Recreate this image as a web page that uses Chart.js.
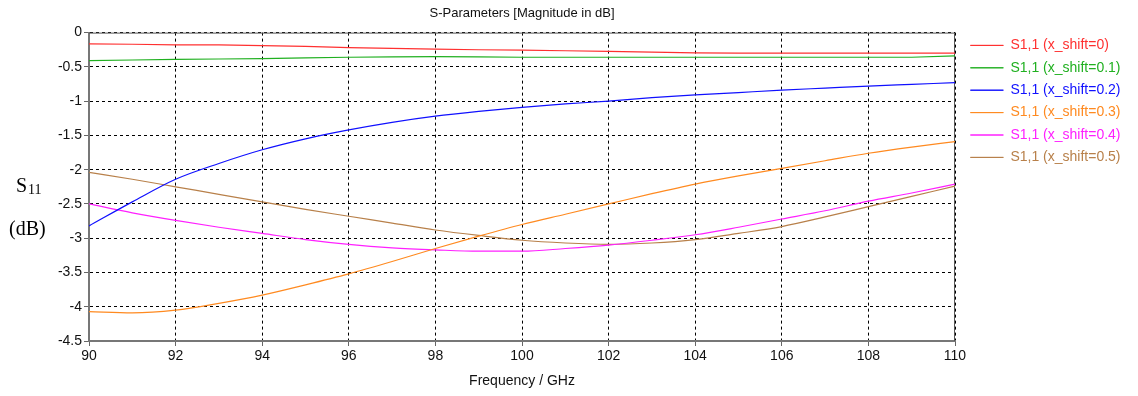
<!DOCTYPE html>
<html>
<head>
<meta charset="utf-8">
<script src="https://cdn.jsdelivr.net/npm/chart.js@4.4.1/dist/chart.umd.min.js"></script>
<style>
  html, body { margin: 0; padding: 0; background: #fff; }
  #wrap { width: 1138px; height: 396px; position: relative; }
</style>
</head>
<body>
<div id="wrap"><canvas id="chart"></canvas></div>
<script>
const freqGHz = [90, 91, 92, 93, 94, 95, 96, 97, 98, 99, 100, 101, 102, 103, 104, 105, 106, 107, 108, 109, 110];

const seriesNames = [
  'S1,1 (x_shift=0)', 'S1,1 (x_shift=0.1)', 'S1,1 (x_shift=0.2)',
  'S1,1 (x_shift=0.3)', 'S1,1 (x_shift=0.4)', 'S1,1 (x_shift=0.5)'
];
const seriesColors = ['#ff3030', '#20b020', '#1010ff', '#ff8a20', '#ff20ff', '#b8804a'];

const s11_shift0  = [-0.165, -0.17, -0.18, -0.18, -0.19, -0.20, -0.22, -0.23, -0.24, -0.25, -0.255, -0.265, -0.275, -0.285, -0.295, -0.30, -0.30, -0.30, -0.30, -0.30, -0.30];
const s11_shift01 = [-0.41, -0.40, -0.39, -0.385, -0.38, -0.37, -0.36, -0.355, -0.35, -0.355, -0.36, -0.36, -0.36, -0.36, -0.36, -0.36, -0.36, -0.36, -0.36, -0.36, -0.34];
const s11_shift02 = [-2.82, -2.47, -2.14, -1.91, -1.71, -1.55, -1.42, -1.31, -1.22, -1.15, -1.09, -1.04, -1.00, -0.95, -0.91, -0.875, -0.84, -0.81, -0.78, -0.755, -0.73];
const s11_shift03 = [-4.07, -4.09, -4.05, -3.95, -3.83, -3.68, -3.52, -3.34, -3.15, -2.97, -2.80, -2.65, -2.50, -2.35, -2.21, -2.09, -1.98, -1.87, -1.76, -1.67, -1.59];
const s11_shift04 = [-2.50, -2.63, -2.74, -2.84, -2.93, -3.02, -3.09, -3.14, -3.17, -3.19, -3.19, -3.15, -3.10, -3.03, -2.95, -2.84, -2.72, -2.60, -2.46, -2.34, -2.21];
const s11_shift05 = [-2.04, -2.14, -2.25, -2.36, -2.47, -2.58, -2.68, -2.78, -2.88, -2.96, -3.03, -3.07, -3.09, -3.07, -3.02, -2.93, -2.83, -2.69, -2.54, -2.39, -2.24];

const allSeries = [s11_shift0, s11_shift01, s11_shift02, s11_shift03, s11_shift04, s11_shift05];

const FONT = '"Liberation Sans", Arial, sans-serif';

function toPoints(vals) {
  return freqGHz.map((f, i) => ({ x: f, y: vals[i] }));
}

const datasets = allSeries.map((vals, i) => ({
  label: seriesNames[i],
  data: toPoints(vals),
  borderColor: seriesColors[i],
  backgroundColor: seriesColors[i],
  borderWidth: 1.2,
  pointRadius: 0,
  tension: i < 2 ? 0 : 0.4,
  cubicInterpolationMode: i < 2 ? 'default' : 'monotone'
}));

// legend width/offset, plot frame, y axis title (S11 / (dB))
const extras = {
  id: 'extras',
  afterInit(chart) {
    const lg = chart.legend;
    const origFit = lg.fit;
    lg.fit = function() {
      origFit.call(this);
      this.width = 179;
    };
    const origDraw = lg.draw;
    lg.draw = function() {
      const ctx = this.ctx;
      ctx.save();
      ctx.translate(7, 30);
      origDraw.call(this);
      ctx.restore();
    };
  },
  beforeDatasetsDraw(chart) {
    const { ctx, chartArea: a } = chart;
    ctx.save();
    ctx.strokeStyle = '#555';
    ctx.lineWidth = 1;
    ctx.beginPath();
    ctx.moveTo(a.left, a.top + 0.5);
    ctx.lineTo(a.right - 0.5, a.top + 0.5);
    ctx.lineTo(a.right - 0.5, a.bottom);
    ctx.stroke();
    ctx.restore();
  },
  afterDraw(chart) {
    const { ctx } = chart;
    ctx.save();
    ctx.fillStyle = '#000';
    ctx.textBaseline = 'alphabetic';
    ctx.font = '20px "Liberation Serif", "Times New Roman", serif';
    ctx.fillText('S', 16, 192);
    const sw = ctx.measureText('S').width;
    ctx.font = '14px "Liberation Serif", "Times New Roman", serif';
    ctx.fillText('11', 16 + sw + 1, 194);
    ctx.font = '20px "Liberation Serif", "Times New Roman", serif';
    ctx.fillText('(dB)', 9, 235);
    ctx.restore();
  }
};

const gridOpts = {
  color: '#000',
  lineWidth: 1,
  tickLength: 5,
  tickColor: '#666',
  tickBorderDash: [],
  tickWidth: 1
};

new Chart(document.getElementById('chart'), {
  type: 'line',
  data: { datasets },
  options: {
    responsive: true,
    maintainAspectRatio: false,
    animation: false,
    layout: { padding: { left: 0, right: 4, top: 0, bottom: 6 } },
    plugins: {
      title: {
        display: true,
        fullSize: false,
        text: 'S-Parameters [Magnitude in dB]',
        color: '#111',
        font: { family: FONT, size: 13, weight: 'normal' },
        padding: { top: 6, bottom: 11 }
      },
      legend: {
        position: 'right',
        align: 'start',
        labels: {
          boxWidth: 33,
          boxHeight: 0,
          padding: 8.4,
          font: { family: FONT, size: 14 },
          generateLabels(chart) {
            return chart.data.datasets.map((ds, i) => ({
              text: ds.label,
              fillStyle: ds.borderColor,
              strokeStyle: ds.borderColor,
              fontColor: ds.borderColor,
              lineWidth: 1,
              hidden: false,
              datasetIndex: i
            }));
          }
        }
      },
      tooltip: { enabled: false }
    },
    scales: {
      x: {
        type: 'linear',
        min: 90,
        max: 110,
        afterFit(s) { s.height = 49; },
        ticks: { stepSize: 2, color: '#111', font: { family: FONT, size: 14 }, padding: 2 },
        grid: gridOpts,
        border: { color: '#777', width: 2, dash: [3, 3] },
        title: {
          display: true,
          text: 'Frequency / GHz',
          color: '#111',
          font: { family: FONT, size: 14 },
          padding: { top: 0, bottom: 0 }
        }
      },
      y: {
        min: -4.5,
        max: 0,
        afterFit(s) { s.width = 89; },
        ticks: {
          stepSize: 0.5,
          color: '#111',
          font: { family: FONT, size: 14 },
          padding: 2,
          callback: (v) => String(Math.round(v * 10) / 10)
        },
        grid: gridOpts,
        border: { color: '#777', width: 2, dash: [3, 3] }
      }
    }
  },
  plugins: [extras]
});
</script>
</body>
</html>
